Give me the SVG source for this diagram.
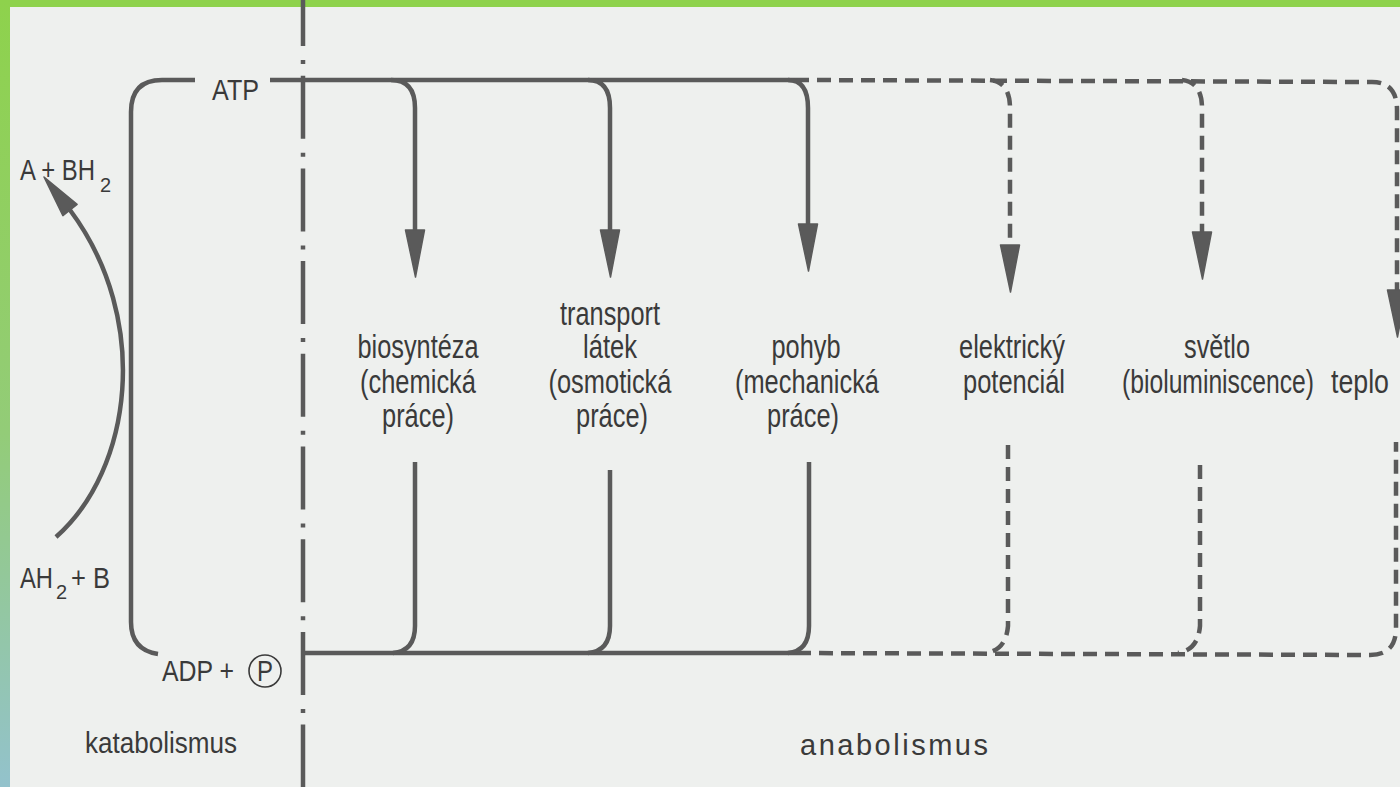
<svg xmlns="http://www.w3.org/2000/svg" xmlns:xlink="http://www.w3.org/1999/xlink" width="1400" height="787" viewBox="0 0 1400 787">
<defs>
<linearGradient id="edge" x1="0" y1="0" x2="0" y2="1">
<stop offset="0" stop-color="#8ed24c"/>
<stop offset="0.55" stop-color="#93cc78"/>
<stop offset="1" stop-color="#93c2cc"/>
</linearGradient>
<path id="ah" d="M -9.5 0 L 9.5 0 L 0.5 47 Z"/>
</defs>
<style>
.ln{fill:none;stroke:#5a5a5a;stroke-width:4.5;stroke-linejoin:round}
.d{stroke-dasharray:14 8}
.axis{fill:none;stroke:#5a5a5a;stroke-width:4.5;stroke-dasharray:63 14 4 11.7}
.hd{fill:#5a5a5a;stroke:#5a5a5a;stroke-width:1.5;stroke-linejoin:round}
text{font-family:"Liberation Sans Narrow","Liberation Sans",Arial,sans-serif;fill:#3a3a3a}
.m{font-size:33px;text-anchor:middle}
.l{font-size:29px}
.s{font-size:20px}
</style>
<rect x="0" y="0" width="1400" height="787" fill="#eef0ee"/>
<rect x="0" y="0" width="1400" height="7" fill="#8ed24c"/>
<rect x="0" y="0" width="10" height="787" fill="url(#edge)"/>

<g id="connectors">
<line class="axis" x1="303" y1="-17" x2="303" y2="787"/>
<path class="ln" d="M 195 80 L 162 80 Q 131 80 131 112 L 131 622 Q 131 650 158 654"/>
<path class="ln" d="M 270 80 L 795 80"/>
<path class="ln d" d="M 795 80 L 1372 82 Q 1397 82 1397 110 L 1397 292"/>
<path class="ln" d="M 303 653 L 797 653"/>
<path class="ln d" d="M 797 653 L 1370 655 Q 1396 655 1396 628 L 1396 442"/>
<path class="ln" d="M 391 80 Q 415 80 415 108 L 415 232"/>
<path class="ln" d="M 415 462 L 415 626 Q 415 651 393 653"/>
<path class="ln" d="M 588 80 Q 610 80 610 108 L 610 232"/>
<path class="ln" d="M 610 470 L 610 626 Q 610 651 588 653"/>
<path class="ln" d="M 788 80 Q 808 80 808 108 L 808 226"/>
<path class="ln" d="M 809 462 L 809 626 Q 809 651 788 653"/>
<path class="ln d" d="M 990 80 Q 1010 82 1010 108 L 1010 247"/>
<path class="ln d" d="M 1008 445 L 1008 626 Q 1006 650 986 653"/>
<path class="ln d" d="M 1182 80 Q 1202 82 1202 108 L 1202 234"/>
<path class="ln d" d="M 1200 465 L 1200 626 Q 1198 650 1178 653"/>
<use xlink:href="#ah" class="hd" x="415" y="230"/>
<use xlink:href="#ah" class="hd" x="610" y="230"/>
<use xlink:href="#ah" class="hd" x="808" y="224"/>
<use xlink:href="#ah" class="hd" x="1010" y="245"/>
<use xlink:href="#ah" class="hd" x="1202" y="232"/>
<use xlink:href="#ah" class="hd" x="1397" y="290"/>
<path class="ln" d="M 56 537 C 132 470 152 320 70 210"/>
<path class="hd" d="M 44 177 L 77.1 204.4 L 62.9 215.6 Z"/>
</g>

<g id="atp"><text class="l" x="212" y="100" textLength="47" lengthAdjust="spacingAndGlyphs">ATP</text></g>
<g id="a-bh2"><text class="l" x="20" y="180" textLength="75" lengthAdjust="spacingAndGlyphs">A + BH</text><text class="s" x="100" y="192">2</text></g>
<g id="ah2-b"><text class="l" x="20" y="588" textLength="33" lengthAdjust="spacingAndGlyphs">AH</text><text class="s" x="56" y="599">2</text><text class="l" x="71" y="588" textLength="39" lengthAdjust="spacingAndGlyphs">+ B</text></g>
<g id="adp-p"><text class="l" x="162" y="681" textLength="72" lengthAdjust="spacingAndGlyphs">ADP +</text><circle cx="265" cy="671" r="16" fill="none" stroke="#3a3a3a" stroke-width="1.6"/><text class="l" x="265" y="681" text-anchor="middle" textLength="16" lengthAdjust="spacingAndGlyphs">P</text></g>
<g id="katabolismus"><text class="l" x="85" y="753" textLength="152" lengthAdjust="spacingAndGlyphs">katabolismus</text></g>
<g id="anabolismus"><text class="l" x="800" y="755" font-size="28" textLength="188" lengthAdjust="spacing">anabolismus</text></g>

<g id="biosynteza">
<text class="m" x="418" y="358" textLength="121" lengthAdjust="spacingAndGlyphs">biosyntéza</text>
<text class="m" x="418" y="393" textLength="116" lengthAdjust="spacingAndGlyphs">(chemická</text>
<text class="m" x="418" y="427" textLength="72" lengthAdjust="spacingAndGlyphs">práce)</text>
</g>
<g id="transport">
<text class="m" x="610" y="325" textLength="100" lengthAdjust="spacingAndGlyphs">transport</text>
<text class="m" x="610" y="358" textLength="54" lengthAdjust="spacingAndGlyphs">látek</text>
<text class="m" x="610" y="393" textLength="123" lengthAdjust="spacingAndGlyphs">(osmotická</text>
<text class="m" x="612" y="427" textLength="72" lengthAdjust="spacingAndGlyphs">práce)</text>
</g>
<g id="pohyb">
<text class="m" x="806" y="358" textLength="69" lengthAdjust="spacingAndGlyphs">pohyb</text>
<text class="m" x="807" y="393" textLength="144" lengthAdjust="spacingAndGlyphs">(mechanická</text>
<text class="m" x="803" y="427" textLength="72" lengthAdjust="spacingAndGlyphs">práce)</text>
</g>
<g id="elektricky">
<text class="m" x="1012" y="358" textLength="106" lengthAdjust="spacingAndGlyphs">elektrický</text>
<text class="m" x="1014" y="393" textLength="102" lengthAdjust="spacingAndGlyphs">potenciál</text>
</g>
<g id="svetlo">
<text class="m" x="1217" y="358" textLength="66" lengthAdjust="spacingAndGlyphs">světlo</text>
<text class="m" x="1218" y="393" textLength="192" lengthAdjust="spacingAndGlyphs">(bioluminiscence)</text>
</g>
<g id="teplo"><text class="m" x="1360" y="393" textLength="58" lengthAdjust="spacingAndGlyphs">teplo</text></g>
</svg>
